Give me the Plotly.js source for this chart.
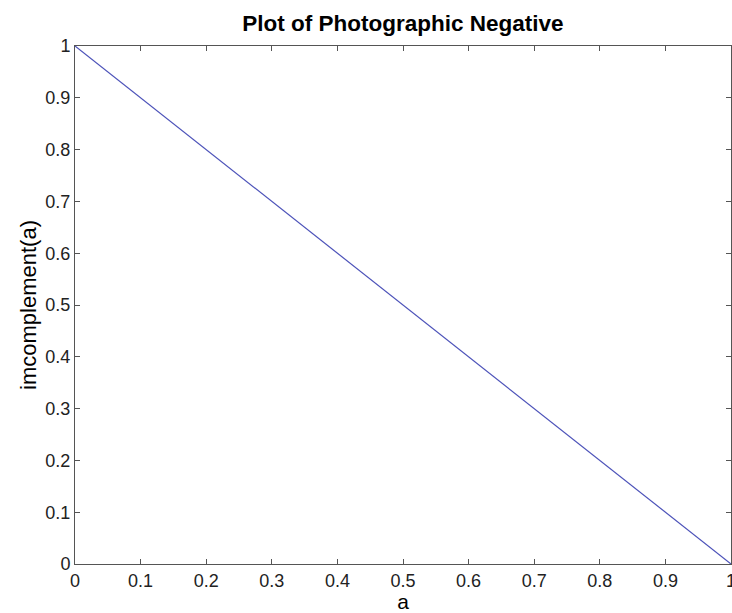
<!DOCTYPE html>
<html>
<head>
<meta charset="utf-8">
<script src="https://cdn.plot.ly/plotly-3.0.1.min.js"></script>
<style>html,body{margin:0;padding:0;background:#fff;}</style>
</head>
<body>
<div id="chart" style="width:732px;height:613px;"></div>
<script>
const a = [0, 1];
const negative = [1, 0];
const tickVals = [0, 0.1, 0.2, 0.3, 0.4, 0.5, 0.6, 0.7, 0.8, 0.9, 1];
const tickText = ['0', '0.1', '0.2', '0.3', '0.4', '0.5', '0.6', '0.7', '0.8', '0.9', '1'];

const font = 'Liberation Sans, Arial, Helvetica, sans-serif';
const axisCommon = {
  showgrid: false,
  zeroline: false,
  showline: true,
  linecolor: '#555',
  linewidth: 1,
  mirror: 'ticks',
  ticks: 'inside',
  ticklen: 5,
  tickcolor: '#555',
  tickvals: tickVals,
  ticktext: tickText,
  ticklabeloverflow: 'allow',
  tickfont: {family: font, size: 18, color: '#222'},
  range: [0, 1],
  fixedrange: true
};

Plotly.newPlot('chart', [{
  x: a,
  y: negative,
  type: 'scatter',
  mode: 'lines',
  line: {color: 'rgb(76,82,185)', width: 1.2},
  hoverinfo: 'skip'
}], {
  width: 732,
  height: 613,
  paper_bgcolor: '#fff',
  plot_bgcolor: '#fff',
  margin: {l: 75, r: 1, t: 46, b: 49},
  showlegend: false,
  title: {text: '<b>Plot of Photographic Negative</b>', font: {family: font, size: 22.5, color: '#000'}, xref: 'paper', x: 0.5, xanchor: 'center', y: 0.962, yanchor: 'middle'},
  xaxis: Object.assign({}, axisCommon, {title: {text: 'a', font: {family: font, size: 21, color: '#000'}, standoff: 4}}),
  yaxis: Object.assign({}, axisCommon, {title: {text: 'imcomplement(a)', font: {family: font, size: 22, color: '#000'}, standoff: 2}})
}, {displayModeBar: false, staticPlot: true});
</script>
</body>
</html>
